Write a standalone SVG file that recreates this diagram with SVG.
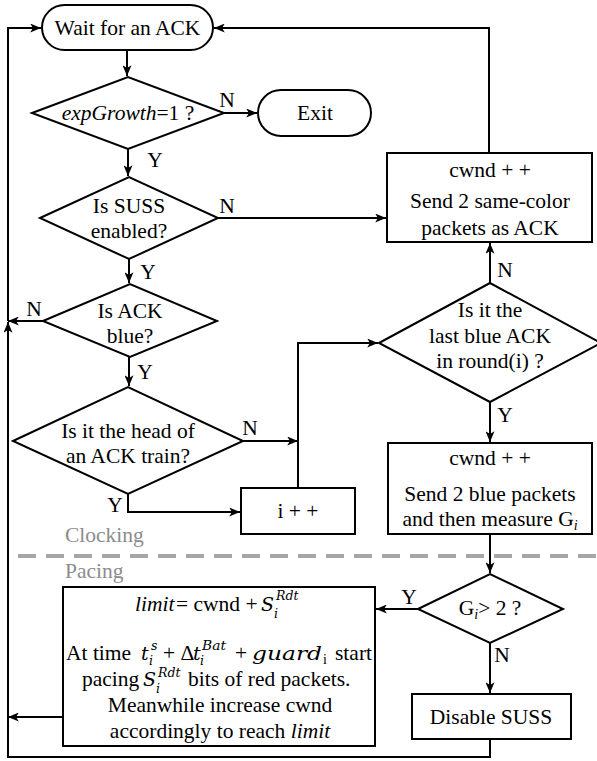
<svg xmlns="http://www.w3.org/2000/svg" width="597" height="761" viewBox="0 0 597 761" font-family="'Liberation Serif', Tinos, 'Times New Roman', Times, 'DejaVu Serif', serif">
<style>
  .shape { fill: #fff; stroke: #000; stroke-width: 2; }
  .conn { fill: none; stroke: #000; stroke-width: 2; }
  text { font-family: 'Liberation Serif', Tinos, 'Times New Roman', Times, serif; font-size: 21.5px; fill: #000; }
  .c { text-anchor: middle; }
  .it { font-style: italic; }
  .sm { font-size: 14px; font-style: italic; }
  .m { font-family: 'DejaVu Serif', 'Liberation Serif', serif; font-style: italic; font-size: 19px; }
  .ms { font-family: 'DejaVu Serif', 'Liberation Serif', serif; font-style: italic; font-size: 12.5px; }
  .gray { fill: #8c8c8c; }
</style>
<defs>
  <marker id="arr" viewBox="0 0 12 10" markerWidth="11" markerHeight="9" refX="12" refY="5" orient="auto" markerUnits="userSpaceOnUse">
    <path d="M0,0 L12,5 L0,10 L3,5 z" fill="#000"/>
  </marker>
</defs>

<rect width="597" height="761" fill="#fff"/>

<g id="divider">
  <line x1="18" y1="556" x2="597" y2="556" stroke="#a6a6a6" stroke-width="4" stroke-dasharray="18 10"/>
  <text x="65" y="542" class="gray">Clocking</text>
  <text x="65" y="578" class="gray">Pacing</text>
</g>

<g id="connectors">
  <path class="conn" d="M127,50 L127,76" marker-end="url(#arr)"/>
  <path class="conn" d="M224,113 L257,113" marker-end="url(#arr)"/>
  <path class="conn" d="M128,149 L128,176" marker-end="url(#arr)"/>
  <path class="conn" d="M218,218 L386,218" marker-end="url(#arr)"/>
  <path class="conn" d="M489,153 L489,28 L214,28" marker-end="url(#arr)"/>
  <path class="conn" d="M129,259 L129,283" marker-end="url(#arr)"/>
  <path class="conn" d="M43,321 L8,321" marker-end="url(#arr)"/>
  <path class="conn" d="M8,321 L8,28 L41,28" marker-end="url(#arr)"/>
  <path class="conn" d="M129,357 L129,386" marker-end="url(#arr)"/>
  <path class="conn" d="M243,441 L298,441" marker-end="url(#arr)"/>
  <path class="conn" d="M298,488 L298,343 L378,343" marker-end="url(#arr)"/>
  <path class="conn" d="M128,494 L128,512 L240,512" marker-end="url(#arr)"/>
  <path class="conn" d="M490,283 L490,243" marker-end="url(#arr)"/>
  <path class="conn" d="M490,402 L490,442" marker-end="url(#arr)"/>
  <path class="conn" d="M490,534 L490,573" marker-end="url(#arr)"/>
  <path class="conn" d="M418,609 L376,609" marker-end="url(#arr)"/>
  <path class="conn" d="M490,643 L490,693" marker-end="url(#arr)"/>
  <path class="conn" d="M490,739 L490,757 L8,757 L8,322" marker-end="url(#arr)"/>
  <path class="conn" d="M63,717 L8,717" marker-end="url(#arr)"/>
  <text x="227" y="107" class="c">N</text>
  <text x="155" y="167" class="c">Y</text>
  <text x="227" y="213" class="c">N</text>
  <text x="148" y="279" class="c">Y</text>
  <text x="34" y="316" class="c">N</text>
  <text x="145" y="379" class="c">Y</text>
  <text x="250" y="435" class="c">N</text>
  <text x="115" y="512" class="c">Y</text>
  <text x="505" y="277" class="c">N</text>
  <text x="505" y="422" class="c">Y</text>
  <text x="409" y="604" class="c">Y</text>
  <text x="502" y="662" class="c">N</text>
</g>

<g id="wait">
  <rect class="shape" x="42" y="5" width="171" height="45" rx="22.5"/>
  <text x="127.5" y="35" class="c">Wait for an ACK</text>
</g>

<g id="expgrowth">
  <polygon class="shape" points="32,113 128,77 224,113 128,149"/>
  <text x="128" y="120" class="c"><tspan class="it">expGrowth</tspan>=1 ?</text>
</g>

<g id="exit">
  <rect class="shape" x="258" y="90" width="113" height="46" rx="23"/>
  <text x="315" y="120" class="c">Exit</text>
</g>

<g id="suss-enabled">
  <polygon class="shape" points="40,218 129,177 218,218 129,259"/>
  <text x="129" y="213" class="c">Is SUSS</text>
  <text x="129" y="238" class="c">enabled?</text>
</g>

<g id="send-same">
  <rect class="shape" x="387" y="153" width="205" height="89"/>
  <text x="490" y="177" class="c">cwnd + +</text>
  <text x="490" y="208" class="c">Send 2 same-color</text>
  <text x="490" y="235" class="c">packets as ACK</text>
</g>

<g id="ack-blue">
  <polygon class="shape" points="43,321 130,284 217,321 130,357"/>
  <text x="130" y="318" class="c">Is ACK</text>
  <text x="130" y="343" class="c">blue?</text>
</g>

<g id="head-train">
  <polygon class="shape" points="13,441 128,387 243,441 128,494"/>
  <text x="128" y="438" class="c">Is it the head of</text>
  <text x="128" y="463" class="c">an ACK train?</text>
</g>

<g id="inc-i">
  <rect class="shape" x="241" y="488" width="114" height="46"/>
  <text x="298" y="518" class="c">i + +</text>
</g>

<g id="last-blue">
  <polygon class="shape" points="379,343 490,283 601,343 490,402"/>
  <text x="490" y="317" class="c">Is it the</text>
  <text x="490" y="343" class="c">last blue ACK</text>
  <text x="490" y="368" class="c">in round(i) ?</text>
</g>

<g id="send-blue">
  <rect class="shape" x="388" y="443" width="204" height="91"/>
  <text x="490" y="465" class="c">cwnd + +</text>
  <text x="490" y="501" class="c">Send 2 blue packets</text>
  <text x="490" y="526" class="c">and then measure G<tspan class="sm" dy="4">i</tspan></text>
</g>

<g id="gi-check">
  <polygon class="shape" points="418,609 490,574 563,609 490,643"/>
  <text x="490" y="615" class="c">G<tspan class="sm" dy="4">i</tspan><tspan dy="-4">&gt; 2 ?</tspan></text>
</g>

<g id="disable">
  <rect class="shape" x="412" y="694" width="159" height="45"/>
  <text x="491" y="724" class="c">Disable SUSS</text>
</g>

<g id="pacing">
  <rect class="shape" x="63" y="587" width="312" height="159"/>
  <text y="611"><tspan x="135" class="it">limit</tspan><tspan x="176">= cwnd +</tspan><tspan x="261" class="m">S</tspan></text>
  <text x="276" y="600" class="ms">Rdt</text>
  <text x="274" y="618" class="ms">i</text>

  <text y="660"><tspan x="66">At time</tspan><tspan x="141" class="m">t</tspan><tspan x="163">+ Δ</tspan><tspan x="193" class="m">t</tspan><tspan x="235">+</tspan><tspan x="252" class="m" textLength="70" lengthAdjust="spacingAndGlyphs">guard</tspan><tspan x="335">start</tspan></text>
  <text x="151" y="650" class="ms">s</text>
  <text x="149" y="665" class="ms">i</text>
  <text x="202" y="650" class="ms" textLength="24" lengthAdjust="spacingAndGlyphs">Bat</text>
  <text x="200" y="665" class="ms">i</text>
  <text x="323" y="664" class="sm" style="font-style:normal">i</text>

  <text y="686"><tspan x="82">pacing</tspan><tspan x="143" class="m">S</tspan><tspan x="188">bits of red packets.</tspan></text>
  <text x="158" y="677" class="ms">Rdt</text>
  <text x="156" y="693" class="ms">i</text>

  <text x="220" y="712" class="c">Meanwhile increase cwnd</text>
  <text x="220" y="738" class="c">accordingly to reach <tspan class="it">limit</tspan></text>
</g>
</svg>
